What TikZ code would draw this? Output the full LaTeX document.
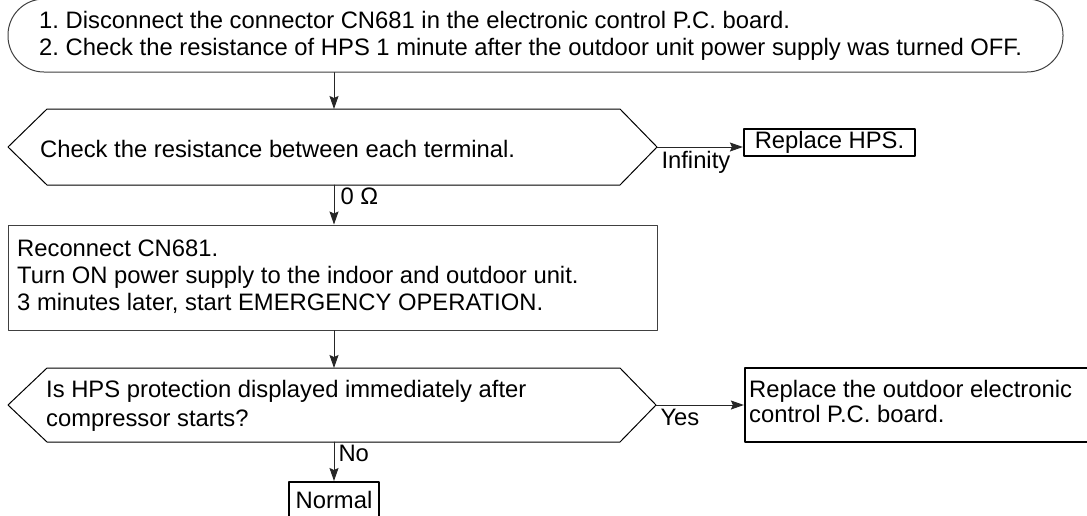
\documentclass[tikz,border=0pt]{standalone}
\usepackage{fontspec}
\setmainfont{Liberation Sans}
\usetikzlibrary{arrows.meta}
\frenchspacing
\tikzset{
	txt/.style={font=\fontsize{23.8}{27}\selectfont, inner sep=0, align=left},
	stepbox/.style={draw=black!75, line width=1},
	result/.style={txt, draw=black, line width=2.2},
	hexline/.style={draw=black, line width=1},
	lbl/.style={font=\fontsize{23.8}{27}\selectfont, inner sep=4},
	arr/.style={draw=black!85, line width=1, -{Stealth[length=13pt,width=9pt,inset=2pt]}}
}
\begin{document}
\begin{tikzpicture}[x=1pt, y=-1pt, line join=round, line cap=round]
	\clip (0,0) rectangle (1087,515);
	\fill[white] (0,0) rectangle (1087,515);
	% start
	\node[stepbox, rounded corners=36, minimum width=1055, minimum height=73] (disc) at (535.5,35.5) {};
	\node[txt, anchor=west] (disctxt) at (39,35.5) {1. Disconnect the connector CN681 in the electronic control P.C. board.\\2. Check the resistance of HPS 1 minute after the outdoor unit power supply was turned OFF.};
	% first check
	\coordinate (h1w) at (8,147);
	\coordinate (h1e) at (657,147);
	\coordinate (h1n) at (334,109);
	\coordinate (h1s) at (334,185);
	\draw[hexline] (h1w) -- (47,109) -- (620,109) -- (h1e) -- (620,185) -- (47,185) -- cycle;
	\node[txt, anchor=west] (chk) at (40,148.5) {Check the resistance between each terminal.};
	\node[result, minimum width=171, minimum height=27] (hps) at (829.5,142.5) {Replace HPS.};
	\draw[arr] (disc.south -| h1n) -- (h1n);
	\draw[arr] (h1e) -- (h1e -| hps.west) node[lbl, pos=0, anchor=north west] {Infinity};
	% reconnect
	\node[stepbox, minimum width=649, minimum height=105] (recon) at (332.5,277.5) {};
	\node[txt, anchor=west] (recontxt) at (17,277) {Reconnect CN681.\\Turn ON power supply to the indoor and outdoor unit.\\3 minutes later, start EMERGENCY OPERATION.};
	\draw[arr] (h1s) -- (h1s |- recon.north) node[lbl, pos=0.5, anchor=base west, xshift=2] {0 Ω};
	% second check
	\coordinate (h2w) at (8,405);
	\coordinate (h2e) at (656,405);
	\coordinate (h2n) at (334,368);
	\coordinate (h2s) at (334,442);
	\draw[hexline] (h2w) -- (47,368) -- (620,368) -- (h2e) -- (620,442) -- (47,442) -- cycle;
	\node[txt, anchor=west, font=\fontsize{23.8}{29}\selectfont] (hpsq) at (46,406) {Is HPS protection displayed immediately after\\compressor starts?};
	\draw[arr] (recon.south -| h2n) -- (h2n);
	\node[result, minimum width=345, minimum height=74] (board) at (917.5,405) {};
	\node[txt, anchor=west, font=\fontsize{23.8}{25}\selectfont] (boardtxt) at (749,401) {Replace the outdoor electronic\\control P.C. board.};
	\draw[arr] (h2e) -- (h2e -| board.west) node[lbl, pos=0, anchor=north west] {Yes};
	\node[result, minimum width=90, minimum height=36, anchor=north] (norm) at (334,481) {Normal};
	\draw[arr] (h2s) -- (h2s |- norm.north) node[lbl, pos=0.5, anchor=base west] {No};
\end{tikzpicture}
\end{document}
